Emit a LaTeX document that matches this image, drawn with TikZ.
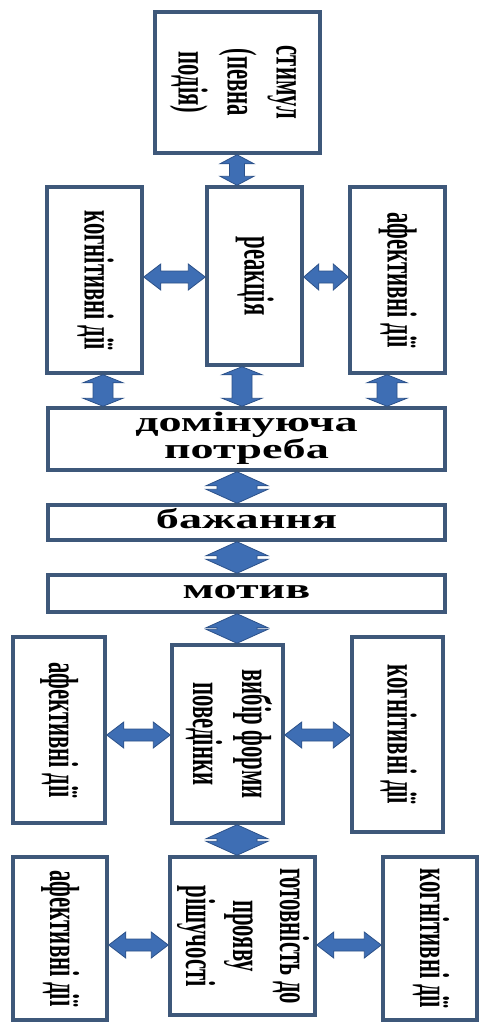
\documentclass[tikz,border=0pt]{standalone}
\usepackage{fontspec}
\setmainfont{Liberation Serif}
\usepackage{graphicx}
\usetikzlibrary{calc}
\definecolor{boxline}{RGB}{62,88,122}
\definecolor{arrfill}{RGB}{62,110,180}
\definecolor{arrline}{RGB}{44,81,137}
\tikzset{
  box/.style={draw=boxline, line width=3.5pt, fill=white, inner sep=0pt, rectangle},
  arr/.style={fill=arrfill, draw=arrline, line width=0.8pt},
}
\newcommand\vtxt[2][49]{\rotatebox{-90}{\scalebox{0.54}[1]{\fontsize{42}{#1}\selectfont\bfseries\begin{tabular}{@{}c@{}}#2\end{tabular}}}}
\newcommand\htxt[1]{\scalebox{1.65}[1]{\fontsize{28}{24}\selectfont\bfseries\begin{tabular}{@{}c@{}}#1\end{tabular}}}
% vertical double arrow: top node anchor, bottom node anchor, x, shaft half width, head half width, head length
\newcommand\varrow[6]{\path[arr] let \p1=(#1), \p2=(#2) in
  (#3pt-#4pt,\y1-#6pt) -- (#3pt-#5pt,\y1-#6pt) -- (#3pt,\y1) -- (#3pt+#5pt,\y1-#6pt) -- (#3pt+#4pt,\y1-#6pt)
  -- (#3pt+#4pt,\y2+#6pt) -- (#3pt+#5pt,\y2+#6pt) -- (#3pt,\y2) -- (#3pt-#5pt,\y2+#6pt) -- (#3pt-#4pt,\y2+#6pt) -- cycle;}
% horizontal double arrow: left node anchor, right node anchor, y (px down), shaft half, head half, head length
\newcommand\harrow[6]{\path[arr] let \p1=(#1), \p2=(#2) in
  (\x1+#6pt,-#3pt+#4pt) -- (\x1+#6pt,-#3pt+#5pt) -- (\x1,-#3pt) -- (\x1+#6pt,-#3pt-#5pt) -- (\x1+#6pt,-#3pt-#4pt)
  -- (\x2-#6pt,-#3pt-#4pt) -- (\x2-#6pt,-#3pt-#5pt) -- (\x2,-#3pt) -- (\x2-#6pt,-#3pt+#5pt) -- (\x2-#6pt,-#3pt+#4pt) -- cycle;}
\begin{document}
\begin{tikzpicture}[x=1pt,y=-1pt]
\useasboundingbox[fill=white] (0,0) rectangle (479,1022);
% boxes
\node[box, minimum width=165pt, minimum height=141pt] (stim) at (237.5,82.5) {\vtxt{стимул\\(певна\\подія)}};
\node[box, minimum width=95pt, minimum height=186pt] (kogn1) at (94.5,280) {\vtxt{когнітивні дії}};
\node[box, minimum width=95pt, minimum height=178pt] (reak) at (254.5,276) {\vtxt{реакція}};
\node[box, minimum width=95pt, minimum height=186pt] (afek1) at (397.5,280) {\vtxt{афективні дії}};
\node[box, minimum width=397pt, minimum height=62pt] (dom) at (246.5,439) {\htxt{домінуюча\\потреба}};
\node[box, minimum width=397pt, minimum height=35pt] (baz) at (246.5,522.5) {\htxt{бажання}};
\node[box, minimum width=397pt, minimum height=37pt] (mot) at (246.5,593.5) {\htxt{мотив}};
\node[box, minimum width=92pt, minimum height=186pt] (afek2) at (59,730) {\vtxt{афективні дії}};
\node[box, minimum width=111pt, minimum height=178pt] (vyb) at (227.5,734) {\vtxt{вибір форми\\поведінки}};
\node[box, minimum width=91pt, minimum height=195pt] (kogn2) at (397.5,734.5) {\vtxt{когнітивні дії}};
\node[box, minimum width=94pt, minimum height=163pt] (afek3) at (60,938.5) {\vtxt{афективні дії}};
\node[box, minimum width=145pt, minimum height=158pt] (hot) at (242.5,936) {\vtxt[47]{готовність до\\прояву\\рішучості}};
\node[box, minimum width=94pt, minimum height=163pt] (kogn3) at (430,938.5) {\vtxt{когнітивні дії}};
% vertical arrows
\varrow{stim.south}{reak.north}{237}{7.5}{17}{9}
\varrow{kogn1.south}{dom.north}{103}{10}{20}{8}
\varrow{reak.south}{dom.north}{242}{10}{20}{8}
\varrow{afek1.south}{dom.north}{387}{10}{20}{8}
\varrow{dom.south}{baz.north}{237}{20}{31}{14}
\varrow{baz.south}{mot.north}{237}{20}{31}{14}
\varrow{mot.south}{vyb.north}{237}{20}{31}{14}
\varrow{vyb.south}{hot.north}{237}{20}{31}{14}
% horizontal arrows
\harrow{kogn1.east}{reak.west}{277}{6}{13}{17}
\harrow{reak.east}{afek1.west}{277}{6}{13}{15}
\harrow{afek2.east}{vyb.west}{735}{6}{13}{17}
\harrow{vyb.east}{kogn2.west}{735}{6}{13}{17}
\harrow{afek3.east}{hot.west}{945}{6}{13}{17}
\harrow{hot.east}{kogn3.west}{945}{6}{13}{17}
\end{tikzpicture}
\end{document}
